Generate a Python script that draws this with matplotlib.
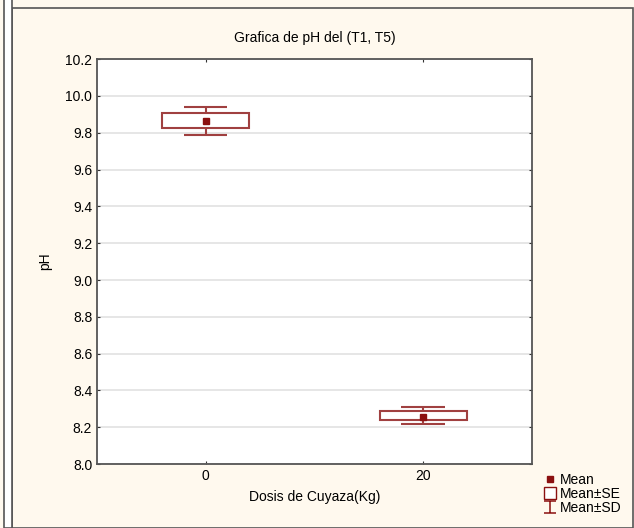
import numpy as np
import matplotlib
matplotlib.use("Agg")
import matplotlib.pyplot as plt
from matplotlib.lines import Line2D
from matplotlib.patches import Rectangle
from matplotlib.path import Path

plt.rcParams['font.family'] = ['Liberation Sans Narrow', 'Liberation Sans', 'DejaVu Sans']

# datos
dosis = [0, 20]
media = [9.862, 8.258]
se_bajo = [9.825, 8.238]
se_alto = [9.905, 8.290]
sd_bajo = [9.790, 8.220]
sd_alto = [9.938, 8.308]
yticks = [8.0, 8.2, 8.4, 8.6, 8.8, 9.0, 9.2, 9.4, 9.6, 9.8, 10.0, 10.2]

rojo = '#8B1010'
borde = '#A04040'
fondo = '#FFF9EE'

fig = plt.figure(figsize=(6.34, 5.28), dpi=100, facecolor=fondo)
ax = fig.add_axes([0.153, 0.121, 0.686, 0.767])
ax.set_facecolor('white')

# marco del panel
fig.patches.append(Rectangle((12/634, 0), 1 - 13/634, 1 - 8/528, transform=fig.transFigure,
                             fill=False, edgecolor='#555555', linewidth=1.2))
fig.patches.append(Rectangle((4/634, 0), 8/634, 1.2, transform=fig.transFigure,
                             facecolor='white', edgecolor='#555555', linewidth=1.2))

ax.set_ylim(8.0, 10.2)
ax.set_xlim(-10, 30)
ax.set_yticks(yticks)
ax.set_yticklabels([f'{v:.1f}' for v in yticks])
ax.set_xticks(dosis)
ax.grid(axis='y', color='#e2e2e2', linewidth=1.2)
ax.set_axisbelow(True)
ax.tick_params(direction='in', length=2, labelsize=10, top=True, right=True,
               labeltop=False, labelright=False, colors='#333333', labelcolor='black')
for s in ax.spines.values():
    s.set_color('#555555')
    s.set_linewidth(1.3)

# caja Mean +/- SE
ax.bar(dosis, np.array(se_alto) - np.array(se_bajo), bottom=se_bajo, width=8,
       fill=False, edgecolor=borde, linewidth=1.5, zorder=3)
# bigotes Mean +/- SD
ax.vlines(dosis, se_alto, sd_alto, color=borde, linewidth=1.5, zorder=3)
ax.vlines(dosis, sd_bajo, se_bajo, color=borde, linewidth=1.5, zorder=3)
for x, lo, hi in zip(dosis, sd_bajo, sd_alto):
    ax.hlines([lo, hi], x - 2, x + 2, color=borde, linewidth=1.5, zorder=3)
ax.plot(dosis, media, 's', color=rojo, markersize=4.5, zorder=4)

ax.set_title('Grafica de pH del (T1, T5)', fontsize=10, pad=12)
ax.set_xlabel('Dosis de Cuyaza(Kg)', fontsize=10, labelpad=5)
ax.set_ylabel('pH', fontsize=10, labelpad=9)

barra_i = Path([(-1, 1), (1, 1), (0, 1), (0, -1), (-1, -1), (1, -1)],
               [Path.MOVETO, Path.LINETO, Path.MOVETO, Path.LINETO, Path.MOVETO, Path.LINETO])
handles = [
    Line2D([], [], marker='s', color=rojo, linestyle='none', markersize=4),
    Line2D([], [], marker='s', markerfacecolor='white', markeredgecolor=rojo,
           linestyle='none', markersize=8, markeredgewidth=1.0),
    Line2D([], [], marker=barra_i, color=rojo, linestyle='none', markersize=8,
           markeredgewidth=1.1),
]
fig.legend(handles, ['Mean', 'Mean±SE', 'Mean±SD'], loc='upper left',
           bbox_to_anchor=(0.848, 0.118), frameon=False, fontsize=10,
           handlelength=0.8, handletextpad=0.3, labelspacing=0.0, borderpad=0)

fig.savefig('out.png', dpi=100, facecolor=fondo)
